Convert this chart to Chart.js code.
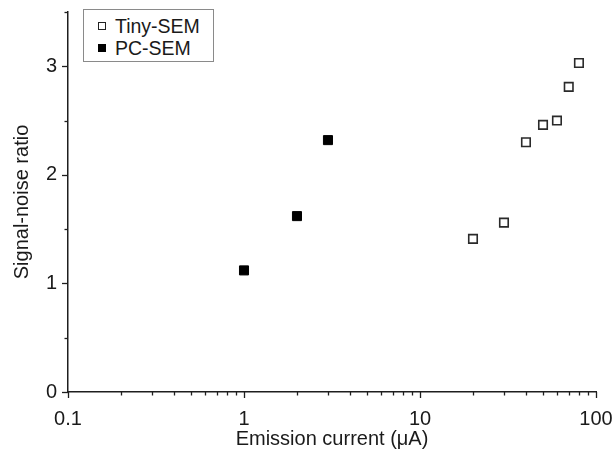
<!DOCTYPE html>
<html>
<head>
<meta charset="utf-8">
<script src="https://cdn.jsdelivr.net/npm/chart.js@4/dist/chart.umd.min.js"></script>
<style>
  html, body { margin: 0; padding: 0; background: #fff; }
  #wrap { position: relative; width: 616px; height: 455px; }
  #legend {
    position: absolute; left: 83px; top: 9px; width: 129px; height: 51px;
    border: 1px solid #8a8a8a; background: #fff;
    font-family: "Liberation Sans", Arial, sans-serif; font-size: 19.5px; color: #1a1a1a;
  }
  .item { position: absolute; left: 14px; height: 22px; line-height: 22px; white-space: nowrap; }
  .sw { display: inline-block; width: 6px; height: 6px; margin-right: 9px; vertical-align: 3px; box-sizing: content-box; }
  .open { border: 1.3px solid #222; background: #fff; }
  .filled { border: 1.3px solid #000; background: #000; }
</style>
</head>
<body>
<div id="wrap">
  <canvas id="c" width="616" height="455"></canvas>
  <div id="legend">
    <div class="item" style="top:5px"><span class="sw open"></span>Tiny-SEM</div>
    <div class="item" style="top:27px"><span class="sw filled"></span>PC-SEM</div>
  </div>
</div>
<script>
// ---- data ----
const tinyCurrent = [20, 30, 40, 50, 60, 70, 80];
const tinySNR     = [1.41, 1.56, 2.30, 2.46, 2.50, 2.81, 3.03];
const pcCurrent   = [1, 2, 3];
const pcSNR       = [1.12, 1.62, 2.32];
const xMajorTicks = [0.1, 1, 10, 100];
const xTickLabels = ["0.1", "1", "10", "100"];
const yMajorTicks = [0, 1, 2, 3];
const yTickLabels = ["0", "1", "2", "3"];

// minor tick positions (axis decoration)
const xAllTicks = [];
for (let d = 0; d < xMajorTicks.length; d++) {
  xAllTicks.push(xMajorTicks[d]);
  if (d < xMajorTicks.length - 1) {
    for (let k = 2; k <= 9; k++) xAllTicks.push(+(xMajorTicks[d] * k).toPrecision(3));
  }
}
const yAllTicks = [0, 0.5, 1, 1.5, 2, 2.5, 3, 3.5];

const FONT = "'Liberation Sans', Arial, sans-serif";
const FS = 20;
const AXIS = '#1e1e1e';

const tickPlugin = {
  id: 'tickMarks',
  afterDraw(chart) {
    const ctx = chart.ctx;
    const xs = chart.scales.x, ys = chart.scales.y;
    ctx.save();
    ctx.strokeStyle = AXIS;
    ctx.lineWidth = 1.3;
    xAllTicks.forEach(v => {
      const px = Math.round(xs.getPixelForValue(v)) + 0.5;
      const major = xMajorTicks.includes(v);
      ctx.beginPath();
      ctx.moveTo(px, xs.top);
      ctx.lineTo(px, xs.top + (major ? 6 : 3.5));
      ctx.stroke();
    });
    yAllTicks.forEach(v => {
      const py = Math.round(ys.getPixelForValue(v)) + 0.5;
      const major = yMajorTicks.includes(v);
      ctx.beginPath();
      ctx.moveTo(ys.right, py);
      ctx.lineTo(ys.right - (major ? 6 : 3.5), py);
      ctx.stroke();
    });
    ctx.restore();
  }
};

new Chart(document.getElementById('c'), {
  type: 'scatter',
  data: {
    datasets: [
      {
        label: 'Tiny-SEM',
        data: tinyCurrent.map((x, i) => ({ x, y: tinySNR[i] })),
        pointStyle: 'rect',
        pointRadius: 6,
        pointBorderWidth: 1.6,
        pointBorderColor: '#2a2a2a',
        pointBackgroundColor: '#ffffff'
      },
      {
        label: 'PC-SEM',
        data: pcCurrent.map((x, i) => ({ x, y: pcSNR[i] })),
        pointStyle: 'rect',
        pointRadius: 6.4,
        pointBorderWidth: 1,
        pointBorderColor: '#000',
        pointBackgroundColor: '#000'
      }
    ]
  },
  options: {
    responsive: false,
    animation: false,
    events: [],
    layout: { padding: { left: 0, right: 20, top: 12, bottom: 0 } },
    plugins: { legend: { display: false }, tooltip: { enabled: false } },
    scales: {
      x: {
        type: 'logarithmic',
        min: 0.1, max: 100,
        afterBuildTicks(s) { s.ticks = xAllTicks.map(v => ({ value: v })); },
        afterFit(s) { s.height = 63; s.paddingLeft = 0; s.paddingRight = 0; },
        grid: { display: false },
        border: { display: true, color: AXIS, width: 1.5 },
        ticks: {
          autoSkip: false, maxRotation: 0, padding: 7,
          color: '#1a1a1a', font: { family: FONT, size: FS },
          callback(v) { const i = xMajorTicks.indexOf(v); return i >= 0 ? xTickLabels[i] : ''; }
        },
        title: {
          display: true, text: 'Emission current (μA)', color: '#1a1a1a',
          font: { family: FONT, size: FS }, padding: { top: 0, bottom: 4 }
        }
      },
      y: {
        min: 0, max: 3.5,
        afterBuildTicks(s) { s.ticks = yAllTicks.map(v => ({ value: v })); },
        afterFit(s) { s.width = 68; s.paddingTop = 0; s.paddingBottom = 0; },
        grid: { display: false },
        border: { display: true, color: AXIS, width: 1.5 },
        ticks: {
          autoSkip: false, padding: 3,
          color: '#1a1a1a', font: { family: FONT, size: FS },
          callback(v) { const i = yMajorTicks.indexOf(v); return i >= 0 ? yTickLabels[i] : ''; }
        },
        title: {
          display: true, text: 'Signal-noise ratio', color: '#1a1a1a',
          font: { family: FONT, size: FS }, padding: { top: 10, bottom: 0 }
        }
      }
    }
  },
  plugins: [tickPlugin]
});
</script>
</body>
</html>
